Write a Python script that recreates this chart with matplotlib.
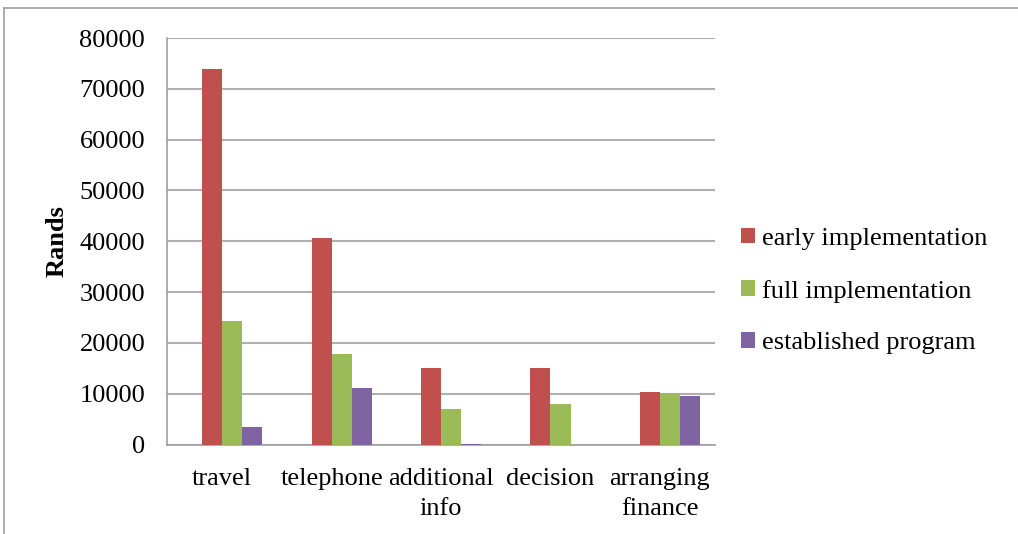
import matplotlib
matplotlib.use("Agg")
import matplotlib.pyplot as plt
import numpy as np
from matplotlib.lines import Line2D

categories = ["travel", "telephone", "additional\ninfo", "decision", "arranging\nfinance"]
series_names = ["early implementation", "full implementation", "established program"]
early = [74000, 40600, 15000, 15000, 10300]
full = [24300, 17800, 7000, 7900, 10100]
established = [3500, 11200, 150, 0, 9500]
colors = ["#C0504D", "#9BBB59", "#8064A2"]

plt.rcParams["font.family"] = ["Liberation Serif", "DejaVu Serif"]
plt.rcParams["font.size"] = 19

fig = plt.figure(figsize=(10.18, 5.34), dpi=100)
ax = fig.add_axes([0.1645, 0.1676, 0.5375, 0.7612])

x = np.arange(len(categories))
width = 0.183
# four slots per group, first one left empty
offsets = [-0.5 * width, 0.5 * width, 1.5 * width]
for vals, off, col, name in zip([early, full, established], offsets, colors, series_names):
    ax.bar(x + off, vals, width, color=col, label=name, zorder=3)

ax.set_xlim(-0.5, len(categories) - 0.5)
ax.set_ylim(0, 80000)
ax.set_yticks(np.arange(0, 80001, 10000))
ax.set_xticks(x)
ax.set_xticklabels(categories, linespacing=1.45)
ax.tick_params(axis="both", length=0)
ax.tick_params(axis="y", pad=16)
ax.tick_params(axis="x", pad=17)

ax.yaxis.grid(True, color="#b0b0b0", linewidth=1.5, zorder=0)
for side in ["top", "right"]:
    ax.spines[side].set_visible(False)
for side in ["left", "bottom"]:
    ax.spines[side].set_color("#a0a0a0")
    ax.spines[side].set_linewidth(1.2)

ax.set_ylabel("Rands", fontweight="bold", labelpad=8)

ax.legend(
    loc="center left",
    bbox_to_anchor=(0.718, 0.455),
    bbox_transform=fig.transFigure,
    frameon=False,
    handlelength=0.53,
    handleheight=0.53,
    handletextpad=0.25,
    labelspacing=1.13,
    borderaxespad=0,
)

# thin frame along the top and left edges
fig.add_artist(Line2D([0.004, 1.0], [0.985, 0.985], color="#a0a0a0", lw=1.2))
fig.add_artist(Line2D([0.004, 0.004], [0.0, 0.985], color="#a0a0a0", lw=1.2))

fig.savefig("out.png", dpi=100)
